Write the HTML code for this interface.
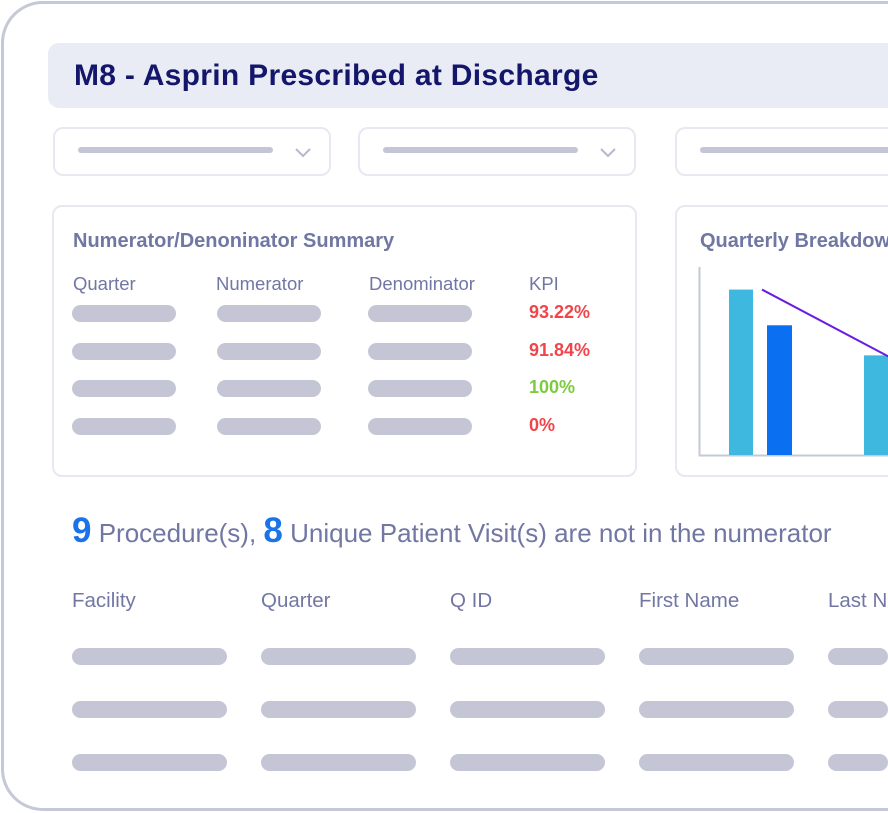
<!DOCTYPE html>
<html><head><meta charset="utf-8"><style>
*{margin:0;padding:0;box-sizing:border-box}
html,body{width:888px;height:813px;overflow:hidden}
body{background:#fff;font-family:"Liberation Sans",sans-serif;position:relative}
#wrap{position:absolute;left:0;top:0;width:888px;height:813px;overflow:hidden}
.a{position:absolute}
.pill{position:absolute;height:17px;border-radius:9px;background:#c4c6d6}
.t{position:absolute;color:#7177a3;white-space:nowrap}
</style></head><body><div id="wrap">
<div class="a" style="left:1px;top:1px;width:940px;height:810px;border:3px solid #c5c8d8;border-radius:42px"></div>
<div class="a" style="left:48px;top:43px;width:880px;height:65px;background:#eaecf5;border-radius:11px"></div>
<div class="t" style="left:74px;top:59px;font-size:30px;font-weight:bold;color:#14166b;letter-spacing:0.3px">M8 - Asprin Prescribed at Discharge</div>

<div class="a" style="left:53px;top:127px;width:278px;height:49px;border:2px solid #e6e8f2;border-radius:10px"></div>
<div class="pill" style="left:78px;top:147px;width:195px;height:6px"></div>
<svg class="a" style="left:295px;top:148px" width="16" height="10"><path d="M1 1 L8 8 L15 1" stroke="#b6b9cc" stroke-width="2" fill="none"/></svg>
<div class="a" style="left:358px;top:127px;width:278px;height:49px;border:2px solid #e6e8f2;border-radius:10px"></div>
<div class="pill" style="left:383px;top:147px;width:195px;height:6px"></div>
<svg class="a" style="left:600px;top:148px" width="16" height="10"><path d="M1 1 L8 8 L15 1" stroke="#b6b9cc" stroke-width="2" fill="none"/></svg>
<div class="a" style="left:675px;top:127px;width:260px;height:49px;border:2px solid #e6e8f2;border-radius:10px"></div>
<div class="pill" style="left:700px;top:147px;width:195px;height:6px"></div>

<div class="a" style="left:52px;top:205px;width:585px;height:272px;border:2px solid #e6e8f2;border-radius:10px"></div>
<div class="t" style="left:73px;top:230px;font-size:20px;font-weight:bold">Numerator/Denoninator Summary</div>
<div class="t" style="left:73px;top:273px;font-size:18.5px">Quarter</div>
<div class="t" style="left:216px;top:273px;font-size:18.5px">Numerator</div>
<div class="t" style="left:369px;top:273px;font-size:18.5px">Denominator</div>
<div class="t" style="left:529px;top:273px;font-size:18.5px">KPI</div>
<div id="rows"></div>

<div class="a" style="left:675px;top:205px;width:260px;height:272px;border:2px solid #e6e8f2;border-radius:10px"></div>
<div class="t" style="left:700px;top:230px;font-size:20px;font-weight:bold">Quarterly Breakdown</div>
<svg class="a" id="chart" style="left:0;top:0" width="888" height="813"></svg>

<div class="t" style="left:72px;top:511px;font-size:26px"><b style="color:#1a73e8;font-size:35px">9</b> Procedure(s), <b style="color:#1a73e8;font-size:35px">8</b> Unique Patient Visit(s) are not in the numerator</div>
<div class="t" style="left:72px;top:589px;font-size:20.5px">Facility</div>
<div class="t" style="left:261px;top:589px;font-size:20.5px">Quarter</div>
<div class="t" style="left:450px;top:589px;font-size:20.5px">Q ID</div>
<div class="t" style="left:639px;top:589px;font-size:20.5px">First Name</div>
<div class="t" style="left:828px;top:589px;font-size:20.5px">Last Name</div>
<div id="trows"></div>
</div>
<script>
var kpis=["93.22%","91.84%","100%","0%"];
var kpiColors=["#f0454a","#f0454a","#7dcc3f","#f0454a"];
var rows=document.getElementById('rows');
kpis.forEach(function(k,i){
  var y=305+i*37.5;
  [72,217,368].forEach(function(x,j){
    var p=document.createElement('div');p.className='pill';
    
    
    p.style.left=x+'px';p.style.top=y+'px';p.style.width='104px';rows.appendChild(p);
  });
  var t=document.createElement('div');t.className='t';
  
  
  t.style.left='529px';t.style.top=(y-3)+'px';t.style.fontSize='18px';t.style.fontWeight='bold';t.style.color=kpiColors[i];t.textContent=k;rows.appendChild(t);
});
var tr=document.getElementById('trows');
for(var r=0;r<3;r++)for(var c=0;c<5;c++){
  var p=document.createElement('div');p.className='pill';
  
  
  p.style.left=(72+c*189)+'px';p.style.top=(648+r*53)+'px';p.style.width=(c==4?'60px':'155px');tr.appendChild(p);
}
</script>
<script>
var categories=["Q1","Q2"];
var seriesA=[88,53];
var seriesB=[69,40];
var lineValues=[88,50];
var NS="http://www.w3.org/2000/svg";
var svg=document.getElementById('chart');
function y(v){return 455-v/100*188;}
function x(i){return 729+i*135;}
function el(n,a){var e=document.createElementNS(NS,n);for(var k in a)e.setAttribute(k,a[k]);svg.appendChild(e);return e;}
var ax=el('path',{d:'M699.5 267 V455.5 H888',stroke:'#c5c8d8','stroke-width':2,fill:'none'});


categories.forEach(function(c,i){
  var b=el('rect',{x:x(i),y:y(seriesA[i]),width:24,height:455-y(seriesA[i]),fill:'#3fb8e0'});
  
  
  var b2=el('rect',{x:x(i)+38,y:y(seriesB[i]),width:25,height:455-y(seriesB[i]),fill:'#0a6ff0'});
  
  
});
var pts=lineValues.map(function(v,i){return (x(i)+33)+','+y(v);}).join(' ');
var l=el('polyline',{points:pts,stroke:'#6a1de0','stroke-width':2,fill:'none'});


</script>
</body></html>
